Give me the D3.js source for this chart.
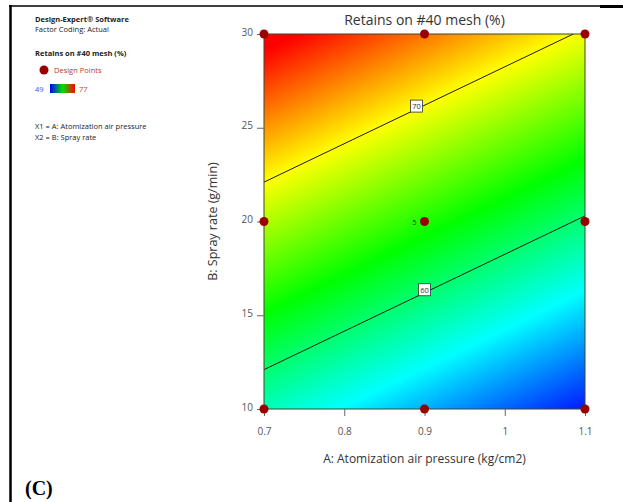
<!DOCTYPE html>
<html>
<head>
<meta charset="utf-8">
<script src="https://cdn.jsdelivr.net/npm/d3@7"></script>
<style>
  body { margin: 0; background: #fff; }
  svg { display: block; font-family: "Open Sans", "Noto Sans", sans-serif; }
</style>
</head>
<body>
<div id="chart"></div>
<script>
// ---- data ----
const xTicks = [0.7, 0.8, 0.9, 1, 1.1];
const yTicks = [10, 15, 20, 25, 30];
const designX = [0.7, 0.7, 0.7, 0.9, 0.9, 0.9, 1.1, 1.1, 1.1];
const designY = [10, 20, 30, 10, 20, 30, 10, 20, 30];
const replicateLabels = [{x: 0.9, y: 20, n: "5"}];
const contourLevels = [60, 70];
const contourLabelX = [0.9, 0.89];
// linear model: R = b0 + bA*A + bB*B
const modelCoef = [62.25, -20.5, 1.0];
const colorDomain = [49, 56, 63, 70, 77];
const colorRange = ["#0000ff", "#00ffff", "#00ff00", "#ffff00", "#ff0000"];

const W = 623, H = 502;
const margin = {left: 264, right: 38, top: 34, bottom: 93};
const pw = W - margin.left - margin.right;
const ph = H - margin.top - margin.bottom;

const svg = d3.select("#chart").append("svg")
    .attr("width", W)
    .attr("height", H);

const model = (a, b) => modelCoef[0] + modelCoef[1] * a + modelCoef[2] * b;

const x = d3.scaleLinear().domain([0.7, 1.1]).range([0, pw]);
const y = d3.scaleLinear().domain([10, 30]).range([ph, 0]);
const color = d3.scaleLinear().domain(colorDomain).range(colorRange).clamp(true);

// page frame
svg.append("line").attr("x1", 9).attr("x2", 600).attr("y1", 6).attr("y2", 6)
    .attr("stroke", "#000").attr("stroke-width", 1.5);
svg.append("line").attr("x1", 600).attr("x2", 623).attr("y1", 6.5).attr("y2", 6.5)
    .attr("stroke", "#000").attr("stroke-width", 3);
svg.append("line").attr("x1", 10.5).attr("x2", 10.5).attr("y1", 5).attr("y2", H)
    .attr("stroke", "#000").attr("stroke-width", 2.5);

const g = svg.append("g").attr("transform", `translate(${margin.left},${margin.top})`);

// response surface raster
const canvas = document.createElement("canvas");
canvas.width = pw; canvas.height = ph;
const ctx = canvas.getContext("2d");
const img = ctx.createImageData(pw, ph);
for (let j = 0; j < ph; j++) {
    const bv = y.invert(j + 0.5);
    for (let i = 0; i < pw; i++) {
        const c = d3.rgb(color(model(x.invert(i + 0.5), bv)));
        const k = (j * pw + i) * 4;
        img.data[k] = c.r; img.data[k + 1] = c.g; img.data[k + 2] = c.b; img.data[k + 3] = 255;
    }
}
ctx.putImageData(img, 0, 0);
g.append("image")
    .attr("width", pw).attr("height", ph)
    .attr("preserveAspectRatio", "none")
    .attr("href", canvas.toDataURL());

g.append("clipPath").attr("id", "plotClip")
    .append("rect").attr("width", pw).attr("height", ph);

// contour lines
const contourB = (level, a) => (level - modelCoef[0] - modelCoef[1] * a) / modelCoef[2];
const line = d3.line().x(d => x(d[0])).y(d => y(d[1]));
contourLevels.forEach((lv, i) => {
    g.append("path")
        .attr("clip-path", "url(#plotClip)")
        .attr("d", line([[0.7, contourB(lv, 0.7)], [1.1, contourB(lv, 1.1)]]))
        .attr("fill", "none")
        .attr("stroke", "#1a1a1a")
        .attr("stroke-width", 1);

    const lx = x(contourLabelX[i]), ly = y(contourB(lv, contourLabelX[i])) - 3;
    g.append("rect")
        .attr("x", lx - 6).attr("y", ly - 6)
        .attr("width", 12).attr("height", 12)
        .attr("fill", "#fff").attr("stroke", "#333").attr("stroke-width", 0.8);
    g.append("text")
        .attr("x", lx).attr("y", ly + 3)
        .attr("text-anchor", "middle")
        .attr("font-size", 7.5).attr("fill", "#333")
        .text(lv);
});

// plot border
g.append("rect").attr("width", pw).attr("height", ph)
    .attr("fill", "none").attr("stroke", "#3a4a2a").attr("stroke-width", 1);

// axes
const xAxis = g.append("g").attr("transform", `translate(0,${ph})`)
    .call(d3.axisBottom(x).tickValues(xTicks).tickSize(7).tickFormat(d3.format("")));
const yAxis = g.append("g")
    .call(d3.axisLeft(y).tickValues(yTicks).tickSize(7).tickFormat(d3.format("")));
[xAxis, yAxis].forEach(ax => {
    ax.select(".domain").remove();
    ax.selectAll(".tick line").attr("stroke", "#666");
    ax.selectAll(".tick text").attr("fill", "#555").attr("font-size", 10)
        .attr("font-family", "'Open Sans', sans-serif");
});
xAxis.selectAll(".tick text").attr("dy", "1.6em");
yAxis.selectAll(".tick text").attr("dx", "-0.1em").attr("dy", "0.1em");

// design points
g.selectAll(".pt")
    .data(designX.map((d, i) => [d, designY[i]]))
    .join("circle")
    .attr("class", "pt")
    .attr("cx", d => x(d[0])).attr("cy", d => y(d[1]))
    .attr("r", 4.5)
    .attr("fill", "#990000");

g.selectAll(".rep")
    .data(replicateLabels)
    .join("text")
    .attr("x", d => x(d.x) - 8).attr("y", d => y(d.y) + 3)
    .attr("text-anchor", "end")
    .attr("font-size", 7).attr("fill", "#333")
    .text(d => d.n);

// titles
svg.append("text")
    .attr("x", margin.left + pw / 2).attr("y", 25)
    .attr("text-anchor", "middle").attr("font-size", 14).attr("fill", "#333")
    .text("Retains on #40 mesh (%)");
svg.append("text")
    .attr("x", margin.left + pw / 2).attr("y", 463)
    .attr("text-anchor", "middle").attr("font-size", 12).attr("fill", "#333")
    .text("A: Atomization air pressure (kg/cm2)");
svg.append("text")
    .attr("transform", `translate(217,${margin.top + ph / 2}) rotate(-90)`)
    .attr("text-anchor", "middle").attr("font-size", 12.5).attr("fill", "#333")
    .text("B: Spray rate (g/min)");

// info legend
const info = svg.append("g").attr("font-size", 7.5).attr("fill", "#222");
info.append("text").attr("x", 35).attr("y", 22).attr("font-weight", "bold").text("Design-Expert® Software");
info.append("text").attr("x", 35).attr("y", 32).text("Factor Coding: Actual");
info.append("text").attr("x", 35).attr("y", 56).attr("font-weight", "bold").text("Retains on #40 mesh (%)");
info.append("circle").attr("cx", 44).attr("cy", 70).attr("r", 4.5).attr("fill", "#990000");
info.append("text").attr("x", 54).attr("y", 73).attr("fill", "#c0392b").text("Design Points");

const grad = svg.append("defs").append("linearGradient").attr("id", "legendGrad");
[["0%", "#0000ff"], ["50%", "#00e000"], ["100%", "#ff0000"]].forEach(s =>
    grad.append("stop").attr("offset", s[0]).attr("stop-color", s[1]));
info.append("text").attr("x", 35).attr("y", 92).attr("fill", "#4a4aff").text(colorDomain[0]);
info.append("rect").attr("x", 50).attr("y", 84).attr("width", 25).attr("height", 9)
    .attr("fill", "url(#legendGrad)");
info.append("text").attr("x", 79).attr("y", 92).attr("fill", "#e03030").text(colorDomain[colorDomain.length - 1]);

info.append("text").attr("x", 35).attr("y", 129).text("X1 = A: Atomization air pressure");
info.append("text").attr("x", 35).attr("y", 140).text("X2 = B: Spray rate");

// panel tag
svg.append("text")
    .attr("x", 25).attr("y", 495)
    .attr("font-family", "'Liberation Serif', 'Times New Roman', serif")
    .attr("font-weight", "bold").attr("font-size", 20).attr("fill", "#000")
    .text("(C)");
</script>
</body>
</html>
